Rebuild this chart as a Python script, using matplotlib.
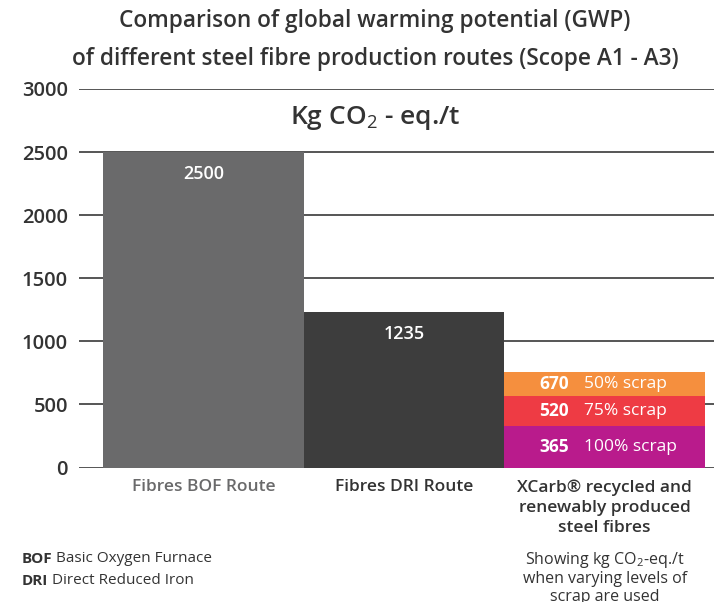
import matplotlib
matplotlib.use("Agg")
import matplotlib.pyplot as plt

plt.rcParams['font.family'] = ['Open Sans', 'DejaVu Sans']
plt.rcParams['mathtext.fontset'] = 'custom'
plt.rcParams['mathtext.rm'] = 'Open Sans'

routes = ['Fibres BOF Route', 'Fibres DRI Route',
          'XCarb® recycled and\nrenewably produced\nsteel fibres']
route_values = [2500, 1235]
route_labels = ['2500', '1235']

# XCarb stacked segments (visual heights) and their labels
xcarb_tops = [330, 570, 755]
xcarb_labels = ['365', '520', '670']
xcarb_scrap = ['100% scrap', '75% scrap', '50% scrap']

yticks = [0, 500, 1000, 1500, 2000, 2500, 3000]

fig = plt.figure(figsize=(7.14, 6.02), dpi=100)
ax = fig.add_axes([79/714, 1-467.5/602, 1-79/714, (467.5-89)/602])

for y in yticks:
    ax.axhline(y, color='#555555', lw=1.4, zorder=0)

colors = ['#6a6a6b', '#3d3d3d']
for i, v in enumerate(route_values):
    ax.bar(i, v, width=1.0, color=colors[i], zorder=2)
    ax.text(i, v - 175, route_labels[i], color='white', ha='center', va='center',
            fontsize=13, fontweight='semibold')

seg_colors = ['#b91b8c', '#ee3b44', '#f58f3e']
bottom = 0
for top, c, lab, scr in zip(xcarb_tops, seg_colors, xcarb_labels, xcarb_scrap):
    ax.bar(2, top - bottom, bottom=bottom, width=1.0, color=c, zorder=2)
    mid = (top + bottom) / 2
    ax.text(1.82, mid, lab, color='white', ha='right', va='center',
            fontsize=12.5, fontweight='bold')
    ax.text(1.895, mid, scr, color='white', ha='left', va='center',
            fontsize=12.5)
    bottom = top

ax.set_xlim(-0.62, 2.545)
ax.set_ylim(0, 3000)
ax.set_yticks(yticks)
ax.set_yticklabels([str(t) for t in yticks], fontsize=14.5, fontweight='semibold',
                   color='#333333')
ax.tick_params(axis='y', length=0, pad=8)
ax.set_xticks([])
for s in ax.spines.values():
    s.set_visible(False)

# category labels
ax.text(0, -95, routes[0], ha='center', va='top', fontsize=12.5,
        fontweight='semibold', color='#6a6a6b')
ax.text(1, -95, routes[1], ha='center', va='top', fontsize=12.5,
        fontweight='semibold', color='#333333')
ax.text(2, -95, routes[2], ha='center', va='top', fontsize=12.5,
        fontweight='semibold', color='#333333', linespacing=1.35)
ax.text(2, -650, 'Showing kg CO$_2$-eq./t\nwhen varying levels of\nscrap are used',
        ha='center', va='top', fontsize=11.5, color='#333333', linespacing=1.15)

fig.text(22/714, 1-559/602, 'BOF', fontsize=11, fontweight='bold', color='#333333', va='center')
fig.text(56/714, 1-559/602, 'Basic Oxygen Furnace', fontsize=11, color='#333333', va='center')
fig.text(22/714, 1-581/602, 'DRI', fontsize=11, fontweight='bold', color='#333333', va='center')
fig.text(52/714, 1-581/602, 'Direct Reduced Iron', fontsize=11, color='#333333', va='center')

fig.text(375/714, 1-40/602,
         'Comparison of global warming potential (GWP)\n'
         'of different steel fibre production routes (Scope A1 - A3)',
         ha='center', va='center', fontsize=16.3, fontweight='semibold',
         color='#333333', linespacing=1.75)
fig.text(375/714, 1-118/602, 'Kg CO$_2$ - eq./t', ha='center', va='center',
         fontsize=19, fontweight='semibold', color='#333333')

fig.savefig('out.png', dpi=100)
